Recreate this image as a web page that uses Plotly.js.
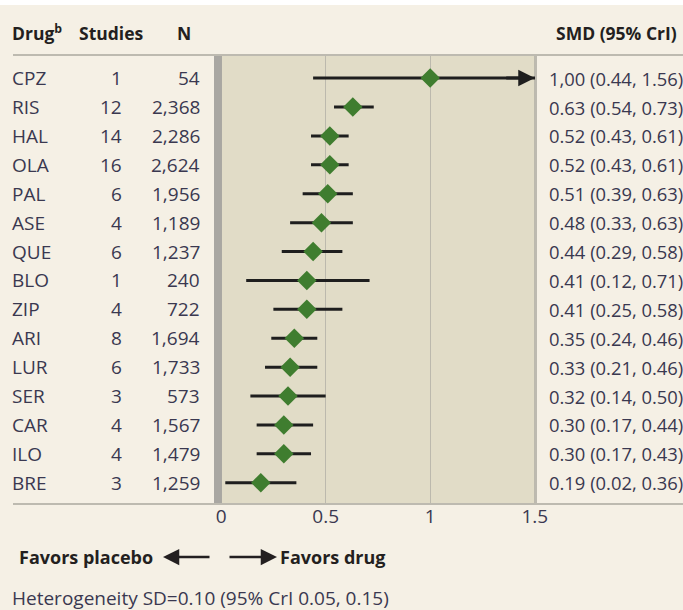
<!DOCTYPE html>
<html><head><meta charset="utf-8">
<script src="https://cdn.plot.ly/plotly-3.0.1.min.js"></script>
<style>html,body{margin:0;padding:0;background:#F5F0E5;}</style>
</head><body>
<div id="chart" style="width:683px;height:610px;"></div>
<script>
// ---- data ----
const drugs   = ["CPZ","RIS","HAL","OLA","PAL","ASE","QUE","BLO","ZIP","ARI","LUR","SER","CAR","ILO","BRE"];
const studies = [1,12,14,16,6,4,6,1,4,8,6,3,4,4,3];
const nPatients = [54,2368,2286,2624,1956,1189,1237,240,722,1694,1733,573,1567,1479,1259];
const smd     = [1.00,0.63,0.52,0.52,0.51,0.48,0.44,0.41,0.41,0.35,0.33,0.32,0.30,0.30,0.19];
const ciLow   = [0.44,0.54,0.43,0.43,0.39,0.33,0.29,0.12,0.25,0.24,0.21,0.14,0.17,0.17,0.02];
const ciHigh  = [1.56,0.73,0.61,0.61,0.63,0.63,0.58,0.71,0.58,0.46,0.46,0.50,0.44,0.43,0.36];
const smdText = ["1,00 (0.44, 1.56)","0.63 (0.54, 0.73)","0.52 (0.43, 0.61)","0.52 (0.43, 0.61)",
  "0.51 (0.39, 0.63)","0.48 (0.33, 0.63)","0.44 (0.29, 0.58)","0.41 (0.12, 0.71)","0.41 (0.25, 0.58)",
  "0.35 (0.24, 0.46)","0.33 (0.21, 0.46)","0.32 (0.14, 0.50)","0.30 (0.17, 0.44)","0.30 (0.17, 0.43)",
  "0.19 (0.02, 0.36)"];
const xTicks = [0,0.5,1,1.5];
const xTickText = ["0","0.5","1","1.5"];

// ---- layout helpers ----
const W = 683, H = 610;
const px = v => v / W;
const py = v => 1 - v / H;
const FONT = "Open Sans";
const txtColor = "#3a3850";
const hdrColor = "#231f20";
const REG = 19, BOLD = 17.5;
const rowIdx = drugs.map((d,i)=>i);

// CI segments
const lx = [], ly = [];
rowIdx.forEach(i => { lx.push(ciLow[i], ciHigh[i], null); ly.push(i, i, null); });

const traces = [
  {x: lx, y: ly, mode: "lines", type: "scatter", line: {color: "#1e1e1e", width: 3},
   hoverinfo: "skip", showlegend: false},
  {x: smd, y: rowIdx, mode: "markers", type: "scatter",
   marker: {symbol: "diamond", size: 15, color: "#3f7d2f", line: {width: 0}},
   showlegend: false}
];

const fmt = n => n.toLocaleString("en-US");
const ann = [];
function A(o){ ann.push(Object.assign({showarrow:false, font:{family:FONT,size:REG,color:txtColor}}, o)); }
const hf = {family:FONT, size:BOLD, color:hdrColor};
const ff = {family:FONT, size:18, color:hdrColor};
const rf = {family:FONT, size:18.4, color:txtColor};

// header
A({text:"<b>Drug<sup>b</sup></b>", xref:"paper", yref:"paper", x:px(10), y:py(33), xanchor:"left", yanchor:"middle", font:hf});
A({text:"<b>Studies</b>", xref:"paper", yref:"paper", x:px(77), y:py(33), xanchor:"left", yanchor:"middle", font:hf});
A({text:"<b>N</b>", xref:"paper", yref:"paper", x:px(175), y:py(33), xanchor:"left", yanchor:"middle", font:hf});
A({text:"<b>SMD (95% CrI)</b>", xref:"paper", yref:"paper", x:px(554), y:py(33), xanchor:"left", yanchor:"middle", font:hf});

rowIdx.forEach(i => {
  A({text:drugs[i], xref:"paper", yref:"y", x:px(10), y:i, xanchor:"left", yanchor:"middle"});
  A({text:String(studies[i]), xref:"paper", yref:"y", x:px(124), y:i, xanchor:"right", yanchor:"middle"});
  A({text:fmt(nPatients[i]), xref:"paper", yref:"y", x:px(202), y:i, xanchor:"right", yanchor:"middle"});
  A({text:smdText[i], xref:"paper", yref:"y", x:px(547), y:i, xanchor:"left", yanchor:"middle", font:rf});
});

// CPZ arrowhead at plot edge
ann.push({x:1.5, y:0, xref:"x", yref:"y", ax:-30, ay:0, text:"", showarrow:true,
  arrowhead:2, arrowsize:1.1, arrowwidth:3, arrowcolor:"#1e1e1e"});

// favors labels
A({text:"<b>Favors placebo</b>", xref:"paper", yref:"paper", x:px(17), y:py(557), xanchor:"left", yanchor:"middle", font:ff});
ann.push({x:px(163), y:py(557), xref:"paper", yref:"paper", ax:48, ay:0, text:"", showarrow:true,
  arrowhead:2, arrowsize:1.3, arrowwidth:2.5, arrowcolor:hdrColor});
ann.push({x:px(277), y:py(557), xref:"paper", yref:"paper", ax:-49, ay:0, text:"", showarrow:true,
  arrowhead:2, arrowsize:1.3, arrowwidth:2.5, arrowcolor:hdrColor});
A({text:"<b>Favors drug</b>", xref:"paper", yref:"paper", x:px(278), y:py(557), xanchor:"left", yanchor:"middle", font:ff});

// footer
A({text:"Heterogeneity SD=0.10 (95% CrI 0.05, 0.15)", xref:"paper", yref:"paper", x:px(10), y:py(598), xanchor:"left", yanchor:"middle"});

const shapes = [
  {type:"rect", xref:"paper", yref:"paper", x0:0, x1:1, y0:py(5), y1:1, fillcolor:"#ffffff", line:{width:0}, layer:"below"},
  {type:"rect", xref:"x", yref:"paper", x0:-0.034, x1:0.004, y0:py(503), y1:py(55), fillcolor:"#a9a7a2", line:{width:0}, layer:"above"},
  {type:"line", xref:"paper", yref:"paper", x0:px(13), x1:1, y0:py(55), y1:py(55), line:{color:"#bdbab0", width:2}},
  {type:"line", xref:"paper", yref:"paper", x0:px(13), x1:1, y0:py(504), y1:py(504), line:{color:"#bdbab0", width:2}},
  {type:"line", xref:"paper", yref:"paper", x0:px(536), x1:px(536), y0:py(503), y1:py(55), line:{color:"#bdbab0", width:2}}
];

const layout = {
  width: W, height: H,
  margin: {l:0, r:0, t:0, b:0},
  paper_bgcolor: "#F5F0E5",
  plot_bgcolor: "#E1DCC7",
  font: {family: FONT, color: txtColor},
  showlegend: false,
  xaxis: {domain:[px(214), px(536)], range:[-0.034, 1.506], tickvals:xTicks, ticktext:xTickText,
          showgrid:true, gridcolor:"#bcb9ad", gridwidth:1, zeroline:false, showline:false, ticks:"",
          tickfont:{family:FONT, size:REG, color:txtColor}, fixedrange:true},
  yaxis: {domain:[1-503/H, 1-55/H], range:[14.7, -0.8], showticklabels:false, showgrid:false,
          zeroline:false, showline:false, ticks:"", fixedrange:true},
  annotations: ann,
  shapes: shapes
};

Plotly.newPlot("chart", traces, layout, {displayModeBar:false, staticPlot:true});
</script>
</body></html>
